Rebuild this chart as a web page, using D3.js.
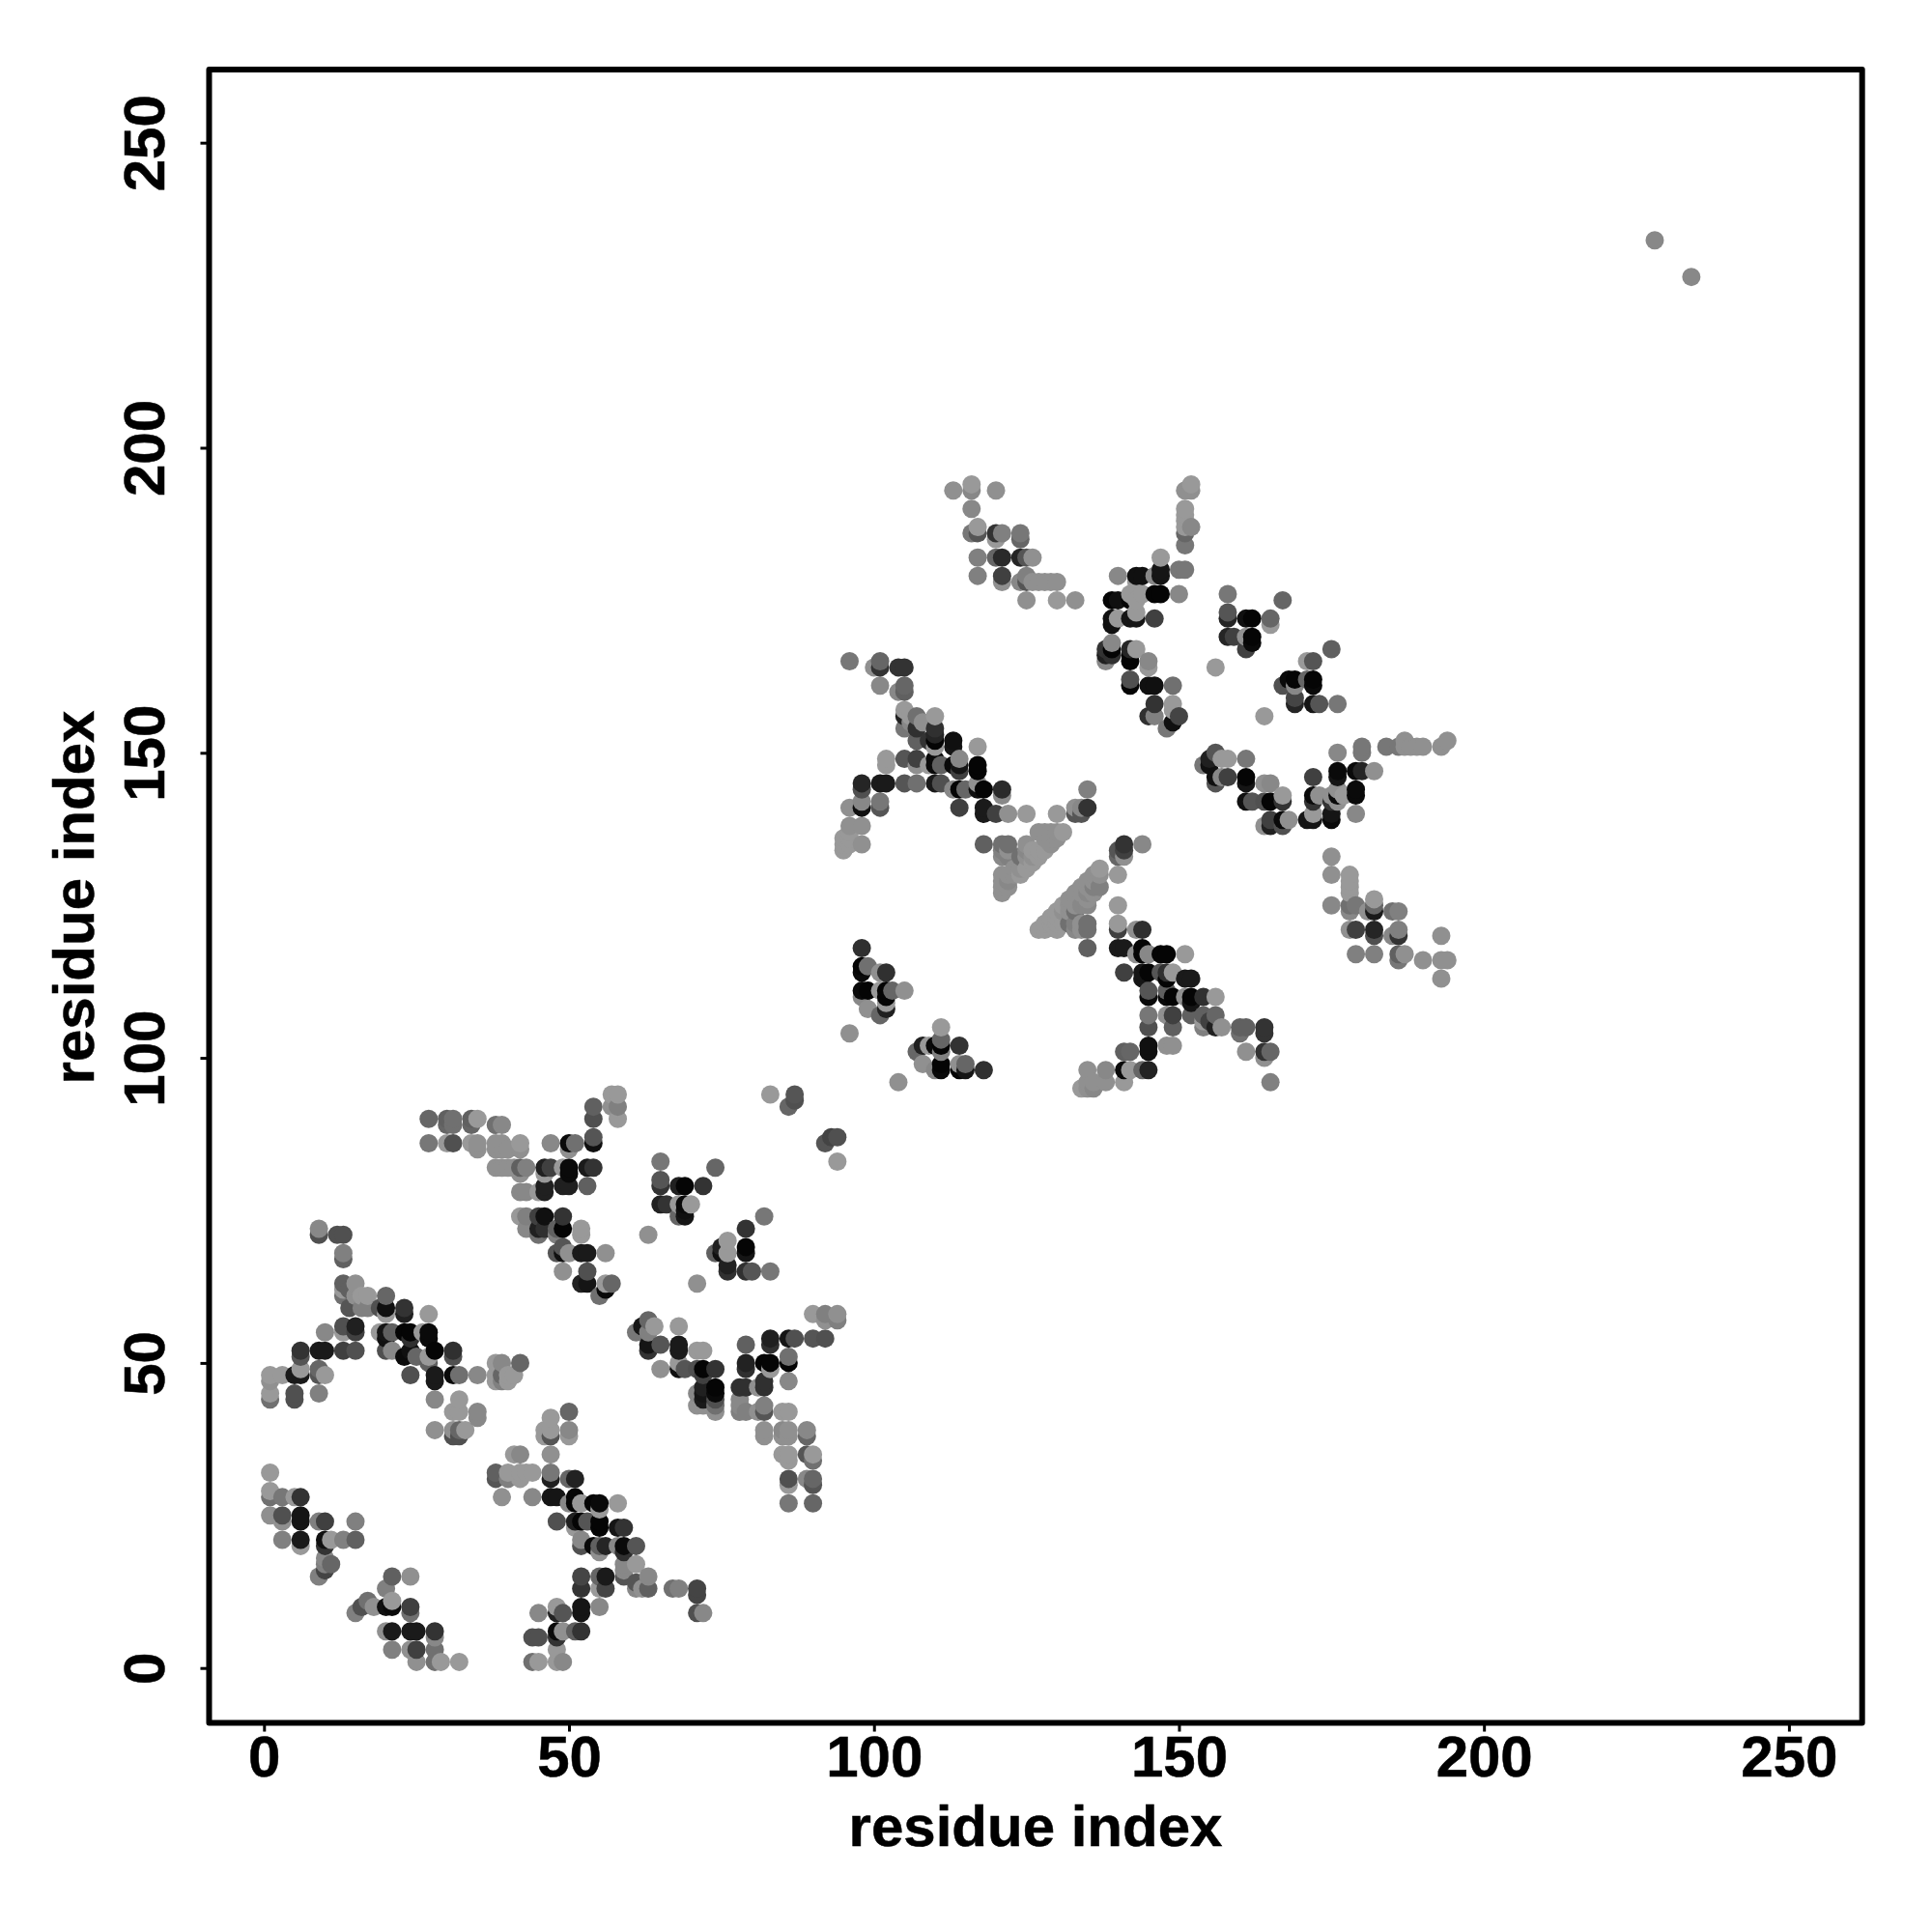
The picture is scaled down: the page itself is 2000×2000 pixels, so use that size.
<!DOCTYPE html>
<html><head><meta charset="utf-8"><style>html,body{margin:0;background:#fff}svg{display:block}text{font-family:"Liberation Sans",Arial,sans-serif;font-weight:bold;fill:#000;stroke:#000;stroke-width:.5px}</style>
<script src="https://cdn.jsdelivr.net/npm/d3@7"></script></head><body><div id="chart"></div><script>
const tickValues=[0,50,100,150,200,250];
const axisTitle="residue index";
// each contact: [residue i, residue j, grey level]
const contactsA=[[1,32,0x99],[1,29,0x99],[1,28,0x70],[3,28,0x77],[5,28,0x99],[6,28,0x33],[1,25,0x8f],[3,25,0x50],[6,25,0x15],[3,24,0x90],[6,24,0x15],[9,24,0x80],[10,24,0x40],[15,24,0x80],[3,21,0x80],[6,21,0x1a],[10,21,0x10],[11,21,0x99],[13,21,0x80],[15,21,0x60],[6,20,0x99],[10,20,0x33],[10,18,0x88],[11,17,0x66],[10,17,0x80],[10,16,0x44],[9,15,0x80],[21,15,0x60],[24,15,0x90],[20,13,0x80],[17,11,0x70],[21,11,0x99],[16,10,0x50],[18,10,0x90],[20,10,0x10],[21,10,0x0a],[24,10,0x40],[15,9,0x80],[24,9,0x70],[20,6,0x90],[21,6,0x1a],[24,6,0x1a],[25,6,0x1a],[28,6,0x33],[28,5,0x88],[21,3,0x80],[24,3,0x90],[25,3,0x40],[28,3,0x70],[25,1,0x90],[28,1,0x70],[29,1,0x99],[32,1,0x99]];
const contactsB=[[44,1,0x70],[45,1,0x99],[48,1,0x99],[49,1,0x88],[48,3,0x99],[44,5,0x50],[45,5,0x50],[48,5,0x33],[48,6,0x0a],[49,6,0x90],[51,6,0x60],[52,6,0x33],[45,9,0x88],[48,9,0x22],[49,9,0x55],[52,9,0x15],[48,10,0x99],[52,10,0x15],[55,10,0x88],[52,13,0x33],[55,13,0x99],[56,13,0x45],[52,15,0x45],[55,15,0x66],[56,15,0x1a],[59,15,0x55],[63,15,0x88],[61,14,0x55],[61,13,0x88],[62,13,0x90],[63,13,0x60],[67,13,0x70],[68,13,0x80],[71,13,0x44],[71,12,0x44],[71,9,0x50],[72,9,0x88],[59,16,0x88],[59,17,0x88],[61,17,0x99],[52,21,0x88],[52,20,0x50],[54,20,0x0a],[55,20,0x60],[55,19,0x90],[56,20,0x25],[58,20,0x88],[59,20,0x0a],[61,20,0x55],[59,19,0x30],[48,24,0x50],[51,24,0x20],[52,24,0x05],[51,23,0x99],[53,24,0x55],[55,24,0x05],[55,23,0x05],[58,23,0x15],[59,23,0x33],[47,28,0x15],[48,28,0x15],[51,28,0x05],[51,27,0x05],[50,27,0x88],[52,27,0x99],[54,27,0x05],[55,27,0x0a],[55,26,0x99],[58,27,0x99],[44,28,0x88],[39,28,0x90],[47,32,0x77],[47,31,0x20],[50,31,0x66],[51,31,0x22],[38,32,0x60],[38,31,0x55],[40,32,0x99],[40,31,0x80],[42,32,0x99],[42,31,0x99],[43,32,0x99],[44,32,0x99],[41,35,0x99],[42,35,0x88],[47,35,0x90]];
const contactsC=[[1,47,0x90],[3,48,0x99],[6,49,0x99],[5,48,0x1a],[6,48,0x1a],[1,48,0x99],[9,49,0x66],[10,48,0x99],[9,48,0x55],[1,45,0x99],[1,44,0x70],[5,45,0x50],[5,44,0x50],[9,45,0x80],[6,52,0x33],[6,51,0x55],[9,52,0x1a],[10,52,0x1a],[13,52,0x40],[15,52,0x50],[10,55,0x88],[13,55,0x99],[13,56,0x50],[15,55,0x40],[15,56,0x20],[9,72,0x88],[9,71,0x50],[12,71,0x50],[13,71,0x50],[13,68,0x80],[13,67,0x60],[13,63,0x60],[15,63,0x90],[13,62,0x99],[14,62,0x60],[13,61,0x70],[15,61,0x90],[16,61,0x99],[17,61,0x99],[20,61,0x66],[14,59,0x55],[16,59,0x80],[17,59,0x80],[19,59,0x50],[20,59,0x10],[23,59,0x33],[23,58,0x20],[20,58,0x99],[27,58,0x99],[19,55,0x99],[20,55,0x15],[21,55,0x60],[23,55,0x05],[24,55,0x05],[26,55,0x99],[27,55,0x0a],[20,54,0x10],[24,54,0x30],[27,54,0x0a],[20,52,0x50],[21,52,0x88],[24,52,0x10],[28,52,0x05],[31,52,0x30],[23,51,0x0a],[25,51,0x66],[27,51,0x99],[31,51,0x50],[27,50,0x60],[24,48,0x50],[28,48,0x1a],[31,48,0x0a],[32,48,0x70],[35,48,0x88],[28,47,0x1a],[38,50,0x99],[39,50,0x88],[42,50,0x66],[38,48,0x99],[39,48,0x66],[40,48,0x99],[41,48,0x99],[38,47,0x99],[39,47,0x80],[40,47,0x99],[28,44,0x88],[32,44,0x99],[31,42,0x99],[32,42,0x99],[35,42,0x88],[35,41,0x88],[28,39,0x90],[31,39,0x90],[32,39,0x66],[33,39,0x99],[31,38,0x50],[32,38,0x50],[47,41,0x99],[50,42,0x66],[46,39,0x99],[47,39,0x99],[50,39,0x88],[46,38,0x99],[47,38,0x55],[50,38,0x99]];
const contactsD=[[27,90,0x66],[30,90,0x60],[31,90,0x70],[30,89,0x66],[31,89,0x70],[34,90,0x60],[34,89,0x66],[35,90,0x99],[38,89,0x70],[39,89,0x88],[27,86,0x77],[30,86,0x99],[31,86,0x50],[34,86,0x99],[35,86,0x90],[38,86,0x90],[39,86,0x90],[42,86,0x99],[35,85,0x90],[38,85,0x90],[39,85,0x90],[40,85,0x90],[42,85,0x90],[47,86,0x88],[50,86,0x0a],[51,86,0x70],[50,85,0x90],[54,92,0x60],[54,90,0x50],[54,87,0x55],[54,86,0x10],[57,94,0x99],[58,94,0x99],[57,92,0x90],[58,92,0x80],[58,90,0x99],[38,82,0x90],[39,82,0x90],[40,82,0x90],[41,82,0x90],[42,82,0x60],[43,82,0x80],[42,81,0x90],[46,82,0x20],[47,82,0x40],[46,81,0x99],[49,82,0x99],[50,82,0x0a],[50,81,0x0a],[53,82,0x1a],[54,82,0x33],[46,79,0x20],[49,79,0x20],[50,79,0x20],[53,79,0x60],[42,78,0x88],[43,78,0x88],[45,78,0x99],[46,78,0x20],[42,74,0x99],[43,74,0x80],[45,74,0x40],[46,74,0x10],[49,74,0x33],[43,72,0x88],[45,72,0x20],[46,72,0x30],[48,72,0x60],[49,72,0x05],[52,72,0x99],[45,71,0x70],[48,71,0x80],[52,71,0x99],[49,69,0x55],[49,68,0x10],[50,68,0x90],[52,68,0x1a],[53,68,0x1a],[56,68,0x90],[48,68,0x55],[49,65,0x90],[53,65,0x50],[52,63,0x22],[53,63,0x15],[56,63,0x99],[57,63,0x66],[56,62,0x0a],[55,61,0x70]];
const contactsE=[[65,83,0x77],[65,80,0x55],[65,79,0x33],[68,79,0x20],[69,79,0x05],[72,79,0x33],[74,82,0x66],[65,76,0x22],[66,76,0x33],[68,76,0x99],[69,76,0x0a],[70,76,0x99],[68,74,0x66],[69,74,0x15],[69,75,0x10],[63,71,0x90],[82,74,0x77],[79,72,0x33],[76,70,0x99],[75,69,0x20],[79,69,0x05],[74,68,0x60],[75,68,0x10],[76,68,0x99],[79,68,0x15],[76,66,0x20],[76,65,0x30],[79,65,0x30],[80,65,0x55],[83,65,0x77],[71,63,0x90],[83,94,0x99],[87,94,0x55],[87,93,0x50],[86,92,0x66],[92,86,0x55],[93,87,0x44],[94,87,0x50],[94,83,0x99],[90,58,0x99],[92,58,0x80],[94,58,0x90],[92,57,0x90],[94,57,0x80],[62,56,0x15],[63,57,0x66],[64,56,0x99],[61,55,0x77],[63,55,0x80],[68,56,0x99],[63,53,0x15],[65,53,0x55],[63,52,0x33],[68,53,0x1a],[68,52,0x1a],[65,49,0x90],[68,50,0x99],[68,49,0x10],[69,49,0x55],[71,52,0x99],[72,52,0x99],[71,49,0x50],[72,49,0x05],[74,49,0x33],[72,48,0x40],[71,45,0x88],[72,45,0x15],[74,45,0x0a],[72,46,0x20],[74,46,0x05],[72,44,0x1a],[74,44,0x50],[72,43,0x90],[71,43,0x90],[74,43,0x70],[74,42,0x90],[79,53,0x60],[79,50,0x22],[79,49,0x30],[82,50,0x05],[83,50,0x05],[83,49,0x99],[83,54,0x20],[83,53,0x30],[86,54,0x15],[87,54,0x50],[90,54,0x55],[92,54,0x50],[86,51,0x70],[86,50,0x05],[86,47,0x88],[78,46,0x30],[79,46,0x30],[82,46,0x30],[82,47,0x30],[81,46,0x90],[78,44,0x88],[78,43,0x88],[78,42,0x80],[79,42,0x80],[82,43,0x80],[82,42,0x55],[81,42,0x90],[85,42,0x99],[86,42,0x99],[82,39,0x90],[82,38,0x90],[85,39,0x88],[86,39,0x90],[85,38,0x90],[86,38,0x90],[89,39,0x88],[89,38,0x66],[86,35,0x99],[85,35,0x99],[86,34,0x99],[89,35,0x55],[90,35,0x99],[90,34,0x70],[86,31,0x50],[86,30,0x99],[89,31,0x88],[90,31,0x66],[90,30,0x55],[86,27,0x77],[90,27,0x66]];
const contactsF=[[96,165,0x77],[101,165,0x66],[100,164,0x90],[101,164,0x33],[104,164,0x33],[105,164,0x33],[101,161,0x88],[104,160,0x88],[105,161,0x66],[105,160,0x60],[105,157,0x99],[105,156,0x22],[105,154,0x77],[106,156,0x99],[107,156,0x70],[110,156,0x99],[106,155,0x88],[107,154,0x30],[108,155,0x90],[110,154,0x30],[110,153,0x25],[107,152,0x60],[109,152,0x33],[110,152,0x05],[110,151,0x99],[113,152,0x10],[113,151,0x15],[117,151,0x99],[102,149,0x99],[102,148,0x99],[105,149,0x55],[107,149,0x40],[107,148,0x90],[109,148,0x99],[110,149,0x0a],[110,148,0x0a],[111,148,0x60],[113,148,0x0a],[114,149,0x88],[114,148,0x15],[114,147,0x40],[117,148,0x05],[117,147,0x05],[98,145,0x25],[98,144,0x50],[98,142,0x88],[98,141,0x10],[101,145,0x1a],[102,145,0x1a],[105,145,0x55],[107,145,0x70],[110,145,0x1a],[111,145,0x50],[113,144,0x88],[114,144,0x05],[115,144,0x66],[117,145,0x90],[117,144,0x10],[118,144,0x05],[121,144,0x2a],[121,143,0x88],[114,141,0x40],[118,141,0x1a],[118,140,0x1a],[120,140,0x40],[122,140,0x90],[125,140,0x99],[130,140,0x99],[133,141,0x90],[134,141,0x88],[135,141,0x33],[133,140,0x55],[134,140,0x55],[135,144,0x80],[101,142,0x77],[101,141,0x55],[96,141,0x90],[98,138,0x90],[96,138,0x90],[96,137,0x99],[95,136,0x99],[96,136,0x99],[98,135,0x90],[95,135,0x99],[96,135,0x99],[95,134,0x99]];
const contactsG=[[118,135,0x60],[121,135,0x70],[122,135,0x70],[125,135,0x90],[121,134,0x80],[122,134,0x90],[125,134,0x88],[121,133,0x88],[122,133,0x80],[124,133,0x70],[125,133,0x90],[126,133,0x90],[127,137,0x90],[128,137,0x90],[129,137,0x90],[130,137,0x90],[131,137,0x99],[126,134,0x99],[127,134,0x99],[128,134,0x99],[129,135,0x90],[130,136,0x90],[125,131,0x99],[126,132,0x99],[127,133,0x99],[124,130,0x99],[122,130,0x90],[121,130,0x90],[123,130,0x90],[121,129,0x90],[122,129,0x88],[121,128,0x90],[122,128,0x90],[121,127,0x90],[123,131,0x90],[124,131,0x90],[128,136,0x90],[129,136,0x90],[137,131,0x99],[137,130,0x90],[136,130,0x90],[135,129,0x90],[136,129,0x90],[137,128,0x80],[136,128,0x80],[134,128,0x90],[133,127,0x90],[134,127,0x90],[132,126,0x90],[135,126,0x90],[131,125,0x99],[133,125,0x90],[132,125,0x90],[135,125,0x88],[130,124,0x99],[127,121,0x99],[128,122,0x99],[128,121,0x99],[129,122,0x99],[130,121,0x99],[130,122,0x99],[131,122,0x99],[133,122,0x80],[134,122,0x90],[135,122,0x70],[135,121,0x70],[133,121,0x88],[134,121,0x90],[132,122,0x70],[135,118,0x60],[129,123,0x99],[130,123,0x99],[131,124,0x90],[132,124,0x90],[133,124,0x70],[134,125,0x88],[136,127,0x90],[135,128,0x90],[135,127,0x88]];
const contactsH=[[140,125,0x99],[140,130,0x99],[140,122,0x99],[140,121,0x40],[143,121,0x90],[144,121,0x30],[141,135,0x33],[140,134,0x55],[141,134,0x40],[140,133,0x66],[141,133,0x90],[144,135,0x88],[140,118,0x1a],[141,118,0x1a],[144,118,0x05],[144,117,0x05],[145,117,0x88],[147,117,0x05],[148,117,0x05],[151,117,0x99],[143,117,0x90],[141,114,0x40],[144,114,0x15],[145,114,0x05],[147,114,0x55],[149,114,0x99],[148,114,0x30],[148,113,0x05],[144,113,0x15],[151,113,0x1a],[152,113,0x1a],[145,111,0x55],[145,110,0x0a],[148,110,0x0a],[149,110,0x05],[148,111,0x60],[151,110,0x90],[152,110,0x05],[154,110,0x30],[156,110,0x99],[152,109,0x15],[145,107,0x77],[148,107,0x90],[149,107,0x40],[152,107,0x60],[154,107,0x60],[156,107,0x66],[145,105,0x50],[149,105,0x60],[154,105,0x80],[156,105,0x20],[157,105,0x90],[154,106,0x99],[155,106,0x40],[160,105,0x60],[161,105,0x60],[160,104,0x70],[164,105,0x33],[164,104,0x33],[161,101,0x90],[164,101,0x33],[165,101,0x66],[164,100,0x90],[165,96,0x80],[148,102,0x90],[149,102,0x90],[141,101,0x60],[142,101,0x66],[145,102,0x10],[145,101,0x10],[135,98,0x90],[138,98,0x88],[141,98,0x0a],[142,98,0x99],[144,98,0x66],[145,98,0x22],[141,96,0x99],[138,96,0x90],[134,95,0x99],[135,96,0x90],[136,96,0x90],[136,95,0x88],[135,95,0x90]];
const contactsI=[[175,133,0x90],[175,130,0x90],[178,130,0x99],[178,129,0x99],[178,128,0x99],[178,127,0x99],[175,125,0x88],[178,125,0x70],[179,125,0x77],[178,124,0x88],[182,126,0x99],[182,125,0x66],[182,124,0x1a],[181,124,0x90],[185,124,0x70],[186,124,0x80],[178,121,0x90],[179,121,0x40],[182,121,0x25],[182,120,0x50],[185,120,0x88],[186,121,0x80],[186,120,0x33],[179,117,0x80],[182,117,0x80],[186,117,0x60],[187,117,0x90],[186,116,0x77],[190,116,0x90],[193,120,0x90],[193,116,0x90],[194,116,0x90],[193,113,0x90]];
const contactsJ=[[98,118,0x30],[98,115,0x05],[98,114,0x0a],[99,115,0x70],[101,114,0x90],[102,114,0x30],[98,111,0x0a],[99,111,0x05],[98,110,0x88],[101,111,0x99],[102,111,0x05],[103,111,0x66],[105,111,0x90],[102,110,0x05],[102,108,0x20],[99,108,0x90],[102,109,0x99],[101,107,0x66],[96,104,0x90],[104,96,0x90],[111,105,0x99],[111,103,0x66],[111,102,0x05],[108,102,0x20],[109,102,0x99],[110,102,0x0a],[114,102,0x33],[107,101,0x66],[111,101,0x80],[108,99,0x90],[111,99,0x05],[111,98,0x0a],[114,99,0x90],[114,98,0x05],[115,99,0x66],[115,98,0x15],[118,98,0x30],[110,98,0x88]];
const contactsK=[[113,193,0x90],[116,194,0x99],[116,193,0x88],[120,193,0x90],[116,190,0x88],[116,186,0x77],[117,187,0x99],[117,186,0x55],[120,186,0x33],[121,186,0x80],[120,185,0x99],[124,186,0x77],[124,185,0x66],[117,182,0x80],[120,182,0x66],[121,182,0x2a],[124,182,0x25],[125,182,0x55],[126,182,0x90],[117,179,0x80],[121,179,0x40],[121,178,0x90],[124,178,0x88],[125,179,0x80],[125,178,0x55],[126,178,0x90],[127,178,0x90],[128,178,0x90],[129,178,0x90],[130,178,0x90],[125,175,0x90],[130,175,0x99],[133,175,0x90],[151,193,0x90],[152,194,0x99],[152,193,0x90],[151,190,0x99],[151,189,0x99],[151,188,0x99],[151,187,0x99],[152,187,0x88],[151,186,0x66],[151,184,0x77],[150,180,0x77],[151,180,0x77],[147,182,0x99],[140,179,0x88],[143,179,0x10],[144,179,0x10],[146,179,0x88],[147,180,0x15],[147,179,0x15],[150,176,0x88],[146,176,0x05],[147,176,0x05],[143,178,0x99],[139,175,0x05],[140,175,0x10],[142,175,0x05],[143,175,0x99],[144,176,0x99],[142,176,0x99],[139,172,0x10],[140,172,0x99],[139,171,0x10],[142,172,0x15],[143,172,0x15],[143,173,0x99],[146,172,0x40]];
const contactsL=[[139,168,0x88],[138,167,0x33],[139,167,0x05],[138,166,0x20],[139,166,0x30],[138,165,0x88],[142,167,0x25],[143,167,0x99],[142,166,0x05],[142,165,0x05],[145,165,0x88],[145,164,0x99],[142,162,0x50],[142,161,0x05],[145,161,0x10],[146,161,0x10],[149,161,0x70],[146,158,0x33],[149,158,0x99],[145,156,0x30],[146,156,0x80],[149,157,0x99],[149,155,0x10],[150,156,0x44],[148,154,0x77],[158,176,0x77],[167,175,0x66],[158,173,0x55],[158,172,0x25],[161,172,0x10],[162,172,0x05],[165,172,0x66],[165,171,0x99],[158,169,0x25],[159,169,0x40],[161,169,0x90],[162,169,0x05],[162,168,0x0a],[161,167,0x40],[156,164,0x99],[164,156,0x99]];
const contactsM=[[172,165,0x55],[171,165,0x99],[175,167,0x60],[168,162,0x0a],[169,162,0x05],[171,162,0x66],[172,162,0x05],[172,161,0x0a],[167,161,0x50],[169,161,0x88],[169,159,0x45],[169,158,0x25],[172,158,0x15],[173,158,0x55],[176,158,0x77],[187,152,0x90],[194,152,0x90],[193,151,0x90],[184,151,0x77],[186,151,0x77],[187,151,0x90],[188,151,0x90],[189,151,0x90],[190,151,0x90],[180,151,0x77],[180,150,0x77],[176,150,0x88],[156,150,0x55],[155,149,0x20],[154,148,0x77],[157,149,0x99],[158,149,0x99],[161,149,0x77],[155,148,0x10],[156,146,0x10],[156,145,0x55],[157,146,0x88],[158,146,0x40],[161,146,0x05],[161,145,0x15],[164,145,0x90],[165,145,0x88],[172,146,0x40],[176,147,0x0a],[176,146,0x15],[179,147,0x0a],[180,147,0x25],[182,147,0x90],[161,142,0x10],[162,142,0x55],[164,142,0x50],[165,142,0x05],[167,143,0x99],[167,142,0x33],[172,143,0x0a],[173,143,0x90],[172,142,0x33],[175,143,0x90],[176,144,0x90],[176,143,0x0a],[177,143,0x99],[175,142,0x33],[176,142,0x90],[179,144,0x0a],[179,143,0x0a],[179,140,0x88],[164,138,0x90],[165,139,0x40],[165,138,0x20],[167,138,0x50],[168,139,0x90],[167,139,0x0a],[171,139,0x15],[172,139,0x15],[172,140,0x99],[175,139,0x0a],[175,140,0x15]];
const contactsN=[[228,234,0x88],[234,228,0x88]];

const contacts=[].concat(contactsA,contactsB,contactsC,contactsD,contactsE,contactsF,contactsG,contactsH,contactsI,contactsJ,contactsK,contactsL,contactsM,contactsN)
  .sort((a,b)=>d3.ascending(a[0],b[0])||d3.ascending(a[1],b[1]));
const W=2000,H=2000;
const x=d3.scaleLinear().domain([0,250]).range([273.3,1851.9]);
const y=d3.scaleLinear().domain([0,250]).range([1726.7,147.7]);
const limits=[-9,262];
const grey=d3.scaleLinear().domain([0,255]).range(["#000","#fff"]);
const svg=d3.select("#chart").append("svg").attr("width",W).attr("height",H);
svg.append("g").selectAll("circle").data(contacts).join("circle")
  .attr("cx",d=>x(d[0])).attr("cy",d=>y(d[1])).attr("r",9.5).attr("fill",d=>grey(d[2]));
svg.append("rect").attr("x",x(limits[0])).attr("y",y(limits[1]))
  .attr("width",x(limits[1])-x(limits[0])).attr("height",y(limits[0])-y(limits[1]))
  .attr("fill","none").attr("stroke","#000").attr("stroke-width",6).attr("stroke-linejoin","round");
const gx=svg.append("g").attr("transform",`translate(0,${y(limits[0])})`)
  .call(d3.axisBottom(x).tickValues(tickValues).tickSize(9).tickFormat(d3.format("d")));
const gy=svg.append("g").attr("transform",`translate(${x(limits[0])},0)`)
  .call(d3.axisLeft(y).tickValues(tickValues).tickSize(9).tickFormat(d3.format("d")));
for(const g of [gx,gy]){g.select(".domain").remove();g.selectAll("line").attr("stroke","#000").attr("stroke-width",3);
  g.selectAll("text").style("font-size","60px").attr("dy",null).attr("fill","#000");}
gx.selectAll("text").attr("y",55).attr("text-anchor","middle");
gy.selectAll("text").attr("x",null).attr("y",null).attr("text-anchor","middle").attr("transform","translate(-46,0) rotate(-90)");
svg.append("text").attr("x",1072).attr("y",1911).attr("text-anchor","middle").style("font-size","60px").text(axisTitle);
svg.append("text").attr("transform","translate(97,929) rotate(-90)").attr("text-anchor","middle").style("font-size","60px").text(axisTitle);
</script></body></html>
